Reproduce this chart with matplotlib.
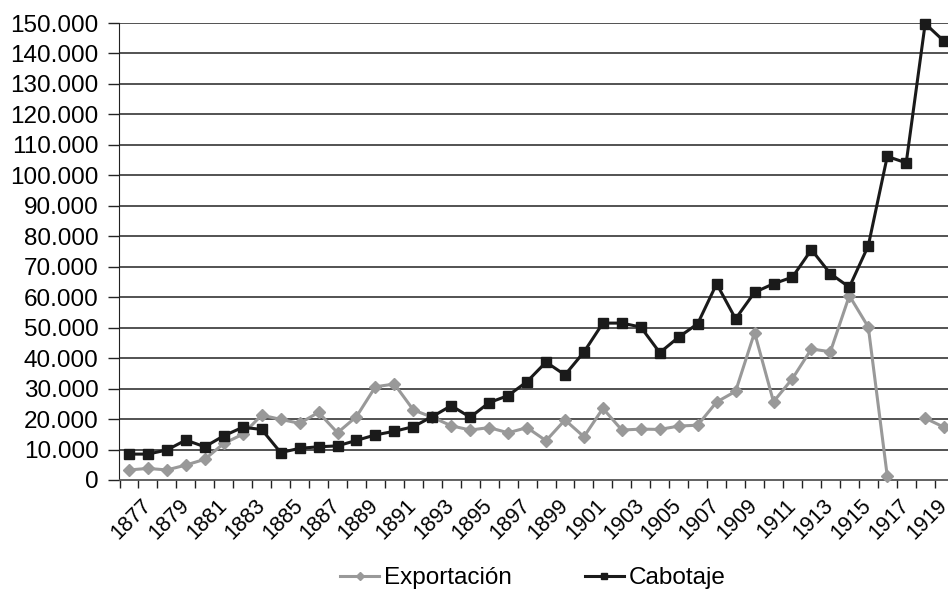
import numpy as np
import matplotlib
matplotlib.use("Agg")
import matplotlib.pyplot as plt
from matplotlib.ticker import FuncFormatter
from matplotlib.transforms import ScaledTranslation

years = list(range(1876, 1920))

exportacion = [3.3, 3.8, 3.3, 4.9, 6.8, 12.0, 15.0, 21.3, 19.9, 18.6,
               22.2, 15.5, 20.8, 30.6, 31.5, 23.0, 20.6, 17.8, 16.4, 17.2,
               15.5, 17.2, 12.9, 19.7, 14.2, 23.5, 16.4, 16.7, 16.6, 17.7,
               18.0, 25.6, 29.1, 48.4, 25.7, 33.3, 43.0, 42.1, 60.5, 50.2,
               1.3, None, 20.3, 17.3]

cabotaje = [8.5, 8.5, 9.85, 13.1, 10.9, 14.5, 17.3, 16.6, 9.0, 10.4,
            10.9, 11.2, 13.0, 14.8, 16.0, 17.5, 20.8, 24.4, 20.6, 25.4,
            27.7, 32.3, 38.7, 34.5, 42.0, 51.5, 51.5, 50.2, 41.8, 46.9,
            51.3, 64.4, 52.9, 61.6, 64.4, 66.6, 75.6, 67.7, 63.3, 76.9,
            106.2, 104.1, 149.8, 144.0]

y_ticks = list(range(0, 150001, 10000))
label_years = list(range(1877, 1920, 2))


def main():
    plt.rcParams["font.family"] = ["Liberation Sans", "DejaVu Sans"]
    exp = np.array([np.nan if v is None else v * 1000 for v in exportacion])
    cab = np.array(cabotaje) * 1000

    fig = plt.figure(figsize=(9.48, 5.92), dpi=100)
    ax = fig.add_axes([119.5 / 948, 1 - 480 / 592, (953.6 - 119.5) / 948, (480 - 23) / 592])

    for y in y_ticks[1:]:
        ax.axhline(y, color="#444444", lw=1.3, zorder=1)

    ax.plot(years, exp, color="#999999", lw=2.2, marker="D", markersize=6.5,
            markerfacecolor="#999999", markeredgecolor="#999999",
            label="Exportación", zorder=3, clip_on=False)
    ax.plot(years, cab, color="#1a1a1a", lw=2.2, marker="s", markersize=6.5,
            label="Cabotaje", zorder=4, clip_on=False)

    ax.set_xlim(1875.5, 1919.5)
    ax.set_ylim(0, 150000)
    ax.set_yticks(y_ticks)
    ax.yaxis.set_major_formatter(FuncFormatter(lambda v, p: f"{int(v):,}".replace(",", ".")))

    ax.set_xticks(label_years)
    ax.set_xticklabels([str(y) for y in label_years], rotation=45, ha="right",
                       va="center", rotation_mode="anchor")
    shift = ScaledTranslation(2 / 100, 0, fig.dpi_scale_trans)
    for lbl in ax.get_xticklabels():
        lbl.set_transform(lbl.get_transform() + shift)
    ax.set_xticks([y + 0.5 for y in range(1875, 1920)], minor=True)
    ax.tick_params(axis="x", which="major", length=0, pad=16, labelsize=15.5)
    ax.tick_params(axis="x", which="minor", length=6, width=1, color="#222222", direction="out")
    ax.tick_params(axis="y", length=8, width=1, color="#222222", pad=7, labelsize=17.5)

    for s in ["top", "right"]:
        ax.spines[s].set_visible(False)
    ax.spines["left"].set_color("#222222")
    ax.spines["bottom"].set_color("#555555")
    ax.spines["bottom"].set_linewidth(1.3)

    fig.legend(loc="center", bbox_to_anchor=(533 / 948, 1 - 578 / 592), ncol=2,
               frameon=False, fontsize=17.5, handlelength=1.6, handletextpad=0.2,
               columnspacing=3.0, markerscale=0.7)

    fig.savefig("out.png", dpi=100)


if __name__ == "__main__":
    main()
